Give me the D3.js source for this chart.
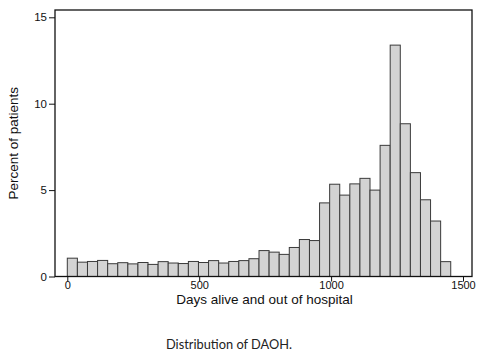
<!DOCTYPE html>
<html><head><meta charset="utf-8">
<script src="https://cdn.jsdelivr.net/npm/d3@7"></script>
<style>body{margin:0;background:#fff}svg{display:block}</style>
</head><body>
<script>
// Data: percent of patients per bin of days alive and out of hospital
const binStart = 0;
const binWidth = 38.25; // days per bin
const percents = [1.06,0.83,0.87,0.93,0.74,0.80,0.73,0.81,0.70,0.86,
                  0.78,0.75,0.87,0.81,0.92,0.78,0.87,0.92,1.03,1.50,
                  1.41,1.28,1.68,2.14,2.08,4.26,5.34,4.71,5.36,5.68,
                  5.00,7.59,13.39,8.84,6.01,4.44,3.21,0.86];
const xTicks = [0,500,1000,1500];
const yTicks = [0,5,10,15];
const xTitle = "Days alive and out of hospital";
const yTitle = "Percent of patients";
const caption = "Distribution of DAOH.";

const W = 485, H = 358;
const frame = {left:55, right:472, top:10, bottom:276.5};
const svg = d3.select("body").append("svg").attr("width",W).attr("height",H);

const x = d3.scaleLinear().domain([0,1500]).range([67.3,463]);
const y = d3.scaleLinear().domain([0,15]).range([frame.bottom,17.3]);

const bins = percents.map((v,i)=>({x0:binStart+i*binWidth, x1:binStart+(i+1)*binWidth, v}));

svg.append("g").selectAll("rect").data(bins).join("rect")
  .attr("x",d=>x(d.x0)).attr("width",d=>x(d.x1)-x(d.x0))
  .attr("y",d=>y(d.v)).attr("height",d=>y(0)-y(d.v))
  .attr("fill","#d3d3d3").attr("stroke","#3a3a3a").attr("stroke-width",1);

// frame
svg.append("rect").attr("x",frame.left).attr("y",frame.top)
  .attr("width",frame.right-frame.left).attr("height",frame.bottom-frame.top)
  .attr("fill","none").attr("stroke","#111").attr("stroke-width",1.3);

const font = "'Liberation Sans', Arial, Helvetica, sans-serif";

const ya = svg.append("g").attr("transform",`translate(${frame.left},0)`)
  .call(d3.axisLeft(y).tickValues(yTicks).tickSize(6).tickPadding(2));
ya.select(".domain").remove();
ya.selectAll("line").attr("stroke","#111");
ya.selectAll("text").attr("font-family",font).attr("font-size",11.5).attr("fill","#111");

const xa = svg.append("g").attr("transform",`translate(0,${frame.bottom})`)
  .call(d3.axisBottom(x).tickValues(xTicks).tickSize(5).tickPadding(0).tickFormat(d3.format("d")));
xa.select(".domain").remove();
xa.selectAll("line").attr("stroke","#111");
xa.selectAll("text").attr("font-family",font).attr("font-size",11).attr("fill","#111");

svg.append("text").attr("x",(frame.left+frame.right)/2+1).attr("y",304)
  .attr("text-anchor","middle").attr("font-family",font).attr("font-size",13.5)
  .attr("fill","#111").text(xTitle);

svg.append("text").attr("transform",`translate(18,${(frame.top+frame.bottom)/2}) rotate(-90)`)
  .attr("text-anchor","middle").attr("font-family",font).attr("font-size",13.5)
  .attr("fill","#111").text(yTitle);

svg.append("text").attr("x",166).attr("y",349)
  .attr("font-family","Lato, 'Open Sans', sans-serif").attr("font-size",12.8)
  .attr("fill","#222").text(caption);
</script>
</body></html>
